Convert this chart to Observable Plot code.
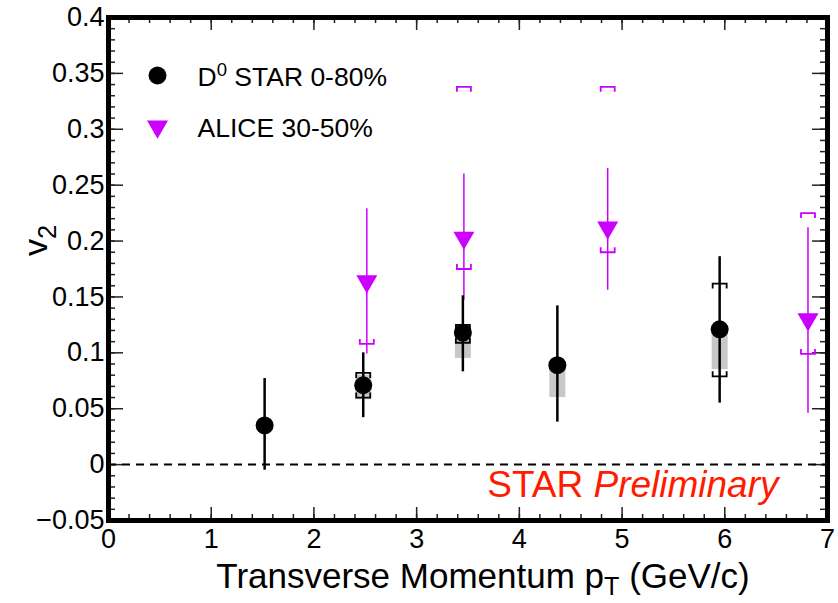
<!DOCTYPE html>
<html>
<head>
<meta charset="utf-8">
<script src="https://cdn.jsdelivr.net/npm/d3@7"></script>
<script src="https://cdn.jsdelivr.net/npm/@observablehq/plot@0.6"></script>
<style>
  html, body { margin: 0; padding: 0; background: white; }
</style>
</head>
<body>
<div id="chart"></div>
<script>
// ---------- data ----------
// STAR D0 0-80%
const starPt   = [1.52, 2.48, 3.45, 4.37, 5.95];
const starV2   = [0.035, 0.071, 0.118, 0.089, 0.121];
const starLo   = [-0.005, 0.042, 0.083, 0.038, 0.055];
const starHi   = [0.077, 0.100, 0.151, 0.142, 0.186];
// gray systematic boxes (pt, low, high)
const boxPt    = [2.48, 3.45, 4.37, 5.95];
const boxLo    = [0.058, 0.095, 0.060, 0.085];
const boxHi    = [0.080, 0.120, 0.089, 0.121];
// black systematic brackets
const sBrPt    = [2.48, 3.45, 5.95];
const sBrLo    = [0.060, 0.109, 0.079];
const sBrHi    = [0.082, 0.125, 0.162];

// ALICE 30-50%
const alicePt  = [2.515, 3.46, 4.86, 6.81];
const aliceV2  = [0.164, 0.203, 0.212, 0.130];
const aliceLo  = [0.099, 0.147, 0.156, 0.046];
const aliceHi  = [0.229, 0.260, 0.265, 0.212];
// ALICE systematic brackets
const aBrLoPt  = [2.515, 3.46, 4.86, 6.81];
const aBrLo    = [0.108, 0.175, 0.190, 0.099];
const aBrHiPt  = [3.46, 4.86, 6.81];
const aBrHi    = [0.338, 0.338, 0.225];

// axis ticks
const xMajor = [0, 1, 2, 3, 4, 5, 6, 7];
const yMajor = [-0.05, 0, 0.05, 0.1, 0.15, 0.2, 0.25, 0.3, 0.35, 0.4];
const yTickLabels = ["\u22120.05", "0", "0.05", "0.1", "0.15", "0.2", "0.25", "0.3", "0.35", "0.4"];
const xMinor = d3.range(0, 7.001, 0.2);
const yMinor = d3.range(-0.05, 0.4001, 0.01);

const legendLabels = ["D0 STAR 0-80%", "ALICE 30-50%"];
const xTitle = "Transverse Momentum pT (GeV/c)";
const yTitle = "v2";
const watermark = "STAR Preliminary";

// ---------- tables ----------
const star = starPt.map((p, i) => ({pt: p, v2: starV2[i], lo: starLo[i], hi: starHi[i]}));
const boxes = boxPt.map((p, i) => ({pt: p, lo: boxLo[i], hi: boxHi[i]}));
const sBrackets = sBrPt.map((p, i) => ({pt: p, lo: sBrLo[i], hi: sBrHi[i]}));
const alice = alicePt.map((p, i) => ({pt: p, v2: aliceV2[i], lo: aliceLo[i], hi: aliceHi[i]}));
const aBrLow = aBrLoPt.map((p, i) => ({pt: p, v: aBrLo[i]}));
const aBrHigh = aBrHiPt.map((p, i) => ({pt: p, v: aBrHi[i]}));

// ---------- layout ----------
const W = 838, H = 603;
const mT = 17, mR = 11, mB = 83, mL = 108;
const innerW = W - mL - mR, innerH = H - mT - mB;
const magenta = "#cc00ff";

// bracket symbols (ROOT style "[" caps)
const capDown = {draw(ctx) { ctx.moveTo(-7, 5); ctx.lineTo(-7, 0); ctx.lineTo(7, 0); ctx.lineTo(7, 5); }};
const capUp   = {draw(ctx) { ctx.moveTo(-7, -5); ctx.lineTo(-7, 0); ctx.lineTo(7, 0); ctx.lineTo(7, -5); }};

const tickStroke = "#222";

const chart = Plot.plot({
  width: W, height: H,
  marginTop: mT, marginRight: mR, marginBottom: mB, marginLeft: mL,
  x: {domain: [0, 7]},
  y: {domain: [-0.05, 0.4]},
  style: {fontFamily: "'Liberation Sans', Arial, Helvetica, sans-serif", background: "white", color: "black"},
  marks: [
    // axes labels (no tick lines: ticks are drawn inside the frame)
    Plot.axisX(xMajor, {tickSize: 0, tickPadding: 8, fontSize: 27, tickFormat: d => String(d), label: null}),
    Plot.axisY(yMajor, {tickSize: 0, tickPadding: 4, fontSize: 27, tickFormat: (d, i) => yTickLabels[i], label: null}),
    // inside ticks: bottom / top
    Plot.tickX(xMajor, {x: d => d, insetTop: innerH - 13, stroke: tickStroke, strokeWidth: 1.5}),
    Plot.tickX(xMinor, {x: d => d, insetTop: innerH - 6, stroke: tickStroke, strokeWidth: 1.5}),
    Plot.tickX(xMajor, {x: d => d, insetBottom: innerH - 13, stroke: tickStroke, strokeWidth: 1.5}),
    Plot.tickX(xMinor, {x: d => d, insetBottom: innerH - 6, stroke: tickStroke, strokeWidth: 1.5}),
    // inside ticks: left / right
    Plot.tickY(yMajor, {y: d => d, insetRight: innerW - 15, stroke: tickStroke, strokeWidth: 1.5}),
    Plot.tickY(yMinor, {y: d => d, insetRight: innerW - 7, stroke: tickStroke, strokeWidth: 1.5}),
    Plot.tickY(yMajor, {y: d => d, insetLeft: innerW - 15, stroke: tickStroke, strokeWidth: 1.5}),
    Plot.tickY(yMinor, {y: d => d, insetLeft: innerW - 7, stroke: tickStroke, strokeWidth: 1.5}),
    // zero line
    Plot.ruleY([0], {stroke: "black", strokeWidth: 2, strokeDasharray: "8,6"}),
    // STAR systematics
    Plot.ruleX(boxes, {x: "pt", y1: "lo", y2: "hi", stroke: "#c8c8c8", strokeWidth: 16}),
    Plot.dot(sBrackets, {x: "pt", y: "hi", symbol: capDown, fill: "none", stroke: "black", strokeWidth: 1.8}),
    Plot.dot(sBrackets, {x: "pt", y: "lo", symbol: capUp, fill: "none", stroke: "black", strokeWidth: 1.8}),
    // ALICE systematics
    Plot.dot(aBrHigh, {x: "pt", y: "v", symbol: capDown, fill: "none", stroke: magenta, strokeWidth: 1.8}),
    Plot.dot(aBrLow, {x: "pt", y: "v", symbol: capUp, fill: "none", stroke: magenta, strokeWidth: 1.8}),
    // error bars
    Plot.ruleX(alice, {x: "pt", y1: "lo", y2: "hi", stroke: magenta, strokeWidth: 1.5}),
    Plot.ruleX(star, {x: "pt", y1: "lo", y2: "hi", stroke: "black", strokeWidth: 2.5}),
    // markers
    Plot.dot(alice, {x: "pt", y: "v2", symbol: "triangle", rotate: 180, r: 7.8, fill: magenta, stroke: "none"}),
    Plot.dot(star, {x: "pt", y: "v2", r: 9, fill: "black", stroke: "none"}),
    // legend
    Plot.dot([0], {frameAnchor: "top-left", dx: 49, dy: 58, r: 9, fill: "black"}),
    Plot.dot([0], {frameAnchor: "top-left", dx: 49, dy: 109, symbol: "triangle", rotate: 180, r: 7.8, fill: magenta}),
    Plot.text([legendLabels[0]], {frameAnchor: "top-left", dx: 89, dy: 60, textAnchor: "start", lineAnchor: "middle", fontSize: 26.5, fill: "black"}),
    Plot.text([legendLabels[1]], {frameAnchor: "top-left", dx: 89, dy: 111, textAnchor: "start", lineAnchor: "middle", fontSize: 26.5, fill: "black"}),
    // watermark
    Plot.text([watermark], {frameAnchor: "bottom-right", dx: -49, dy: -35, textAnchor: "end", lineAnchor: "middle", fontSize: 37, fill: "#ff1a00"}),
    // axis titles
    Plot.text([xTitle], {frameAnchor: "bottom", dx: 15, dy: 56, lineAnchor: "middle", fontSize: 35, fill: "black"}),
    Plot.text([yTitle], {frameAnchor: "left", dx: -72, dy: -13, rotate: -90, lineAnchor: "middle", fontSize: 34, fill: "black"}),
    // frame
    Plot.frame({stroke: "black", strokeWidth: 5})
  ]
});

// rich text: subscripts, superscript, italics
chart.querySelectorAll("text").forEach(t => {
  const s = t.textContent;
  if (s === xTitle) {
    t.innerHTML = 'Transverse Momentum p<tspan baseline-shift="-7" font-size="0.72em">T</tspan> (GeV/c)';
  } else if (s === yTitle) {
    t.innerHTML = 'v<tspan baseline-shift="-9" font-size="0.75em">2</tspan>';
  } else if (s === legendLabels[0]) {
    t.innerHTML = 'D<tspan baseline-shift="10" font-size="0.7em">0</tspan> STAR 0-80%';
  } else if (s === watermark) {
    t.innerHTML = 'STAR <tspan font-style="italic">Preliminary</tspan>';
  }
});

document.getElementById("chart").appendChild(chart);
</script>
</body>
</html>
